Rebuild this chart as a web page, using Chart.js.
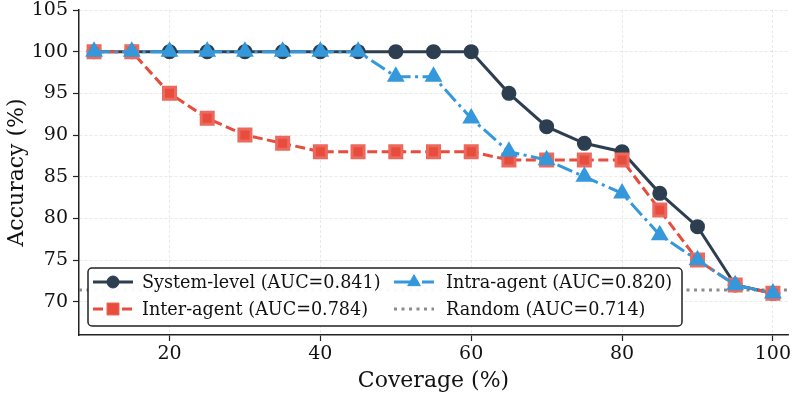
<!DOCTYPE html>
<html>
<head>
<meta charset="utf-8">
<script src="https://cdn.jsdelivr.net/npm/chart.js@4.4.1/dist/chart.umd.min.js"></script>
<style>
  html, body { margin: 0; padding: 0; background: #fff; overflow: hidden; }
  #wrap { width: 793px; height: 396px; }
  canvas { display: block; }
</style>
</head>
<body>
<div id="wrap"><canvas id="chart" width="793" height="396"></canvas></div>
<script>
// Data
const coverage = [10, 15, 20, 25, 30, 35, 40, 45, 50, 55, 60, 65, 70, 75, 80, 85, 90, 95, 100];
const systemLevel = [100, 100, 100, 100, 100, 100, 100, 100, 100, 100, 100, 95, 91, 89, 88, 83, 79, 72, 71];
const interAgent = [100, 100, 95, 92, 90, 89, 88, 88, 88, 88, 88, 87, 87, 87, 87, 81, 75, 72, 71];
const intraAgent = [100, 100, 100, 100, 100, 100, 100, 100, 97, 97, 92, 88, 87, 85, 83, 78, 75, 72, 71];
const randomAcc = 71.4;
const seriesLabels = [
  "System-level (AUC=0.841)",
  "Inter-agent (AUC=0.784)",
  "Intra-agent (AUC=0.820)",
  "Random (AUC=0.714)"
];
const xTicks = [20, 40, 60, 80, 100];
const yTicks = [70, 75, 80, 85, 90, 95, 100, 105];
const xMin = 8, xMax = 102;
const yMin = 66, yMax = 105;

const FONT = "'DejaVu Serif', serif";
const toPoints = ys => ys.map((y, i) => ({ x: coverage[i], y: y }));

// Legend drawn inside the plot, two columns like the original
const innerLegend = {
  id: "innerLegend",
  afterDraw(chart) {
    const ctx = chart.ctx;
    const box = { x: 88, y: 268, w: 594, h: 58 };
    ctx.save();
    ctx.beginPath();
    ctx.roundRect(box.x, box.y, box.w, box.h, 4);
    ctx.fillStyle = "rgba(255,255,255,0.95)";
    ctx.fill();
    ctx.lineWidth = 1.5;
    ctx.strokeStyle = "#222";
    ctx.stroke();

    // column-major order: col 1 = system, inter; col 2 = intra, random
    const slots = [
      { ds: 0, hx: 93, tx: 142, y: 282 },
      { ds: 1, hx: 93, tx: 142, y: 309 },
      { ds: 2, hx: 394, tx: 446, y: 282 },
      { ds: 3, hx: 394, tx: 446, y: 309 }
    ];
    ctx.font = "17.6px " + FONT;
    ctx.textBaseline = "middle";
    slots.forEach(s => {
      const d = chart.data.datasets[s.ds];
      ctx.save();
      ctx.strokeStyle = d.borderColor;
      ctx.lineWidth = d.borderWidth;
      ctx.setLineDash(d.borderDash || []);
      ctx.beginPath();
      ctx.moveTo(s.hx, s.y);
      ctx.lineTo(s.hx + 40, s.y);
      ctx.stroke();
      ctx.restore();
      if (d.pointRadius > 0) {
        ctx.fillStyle = d.pointBackgroundColor;
        ctx.strokeStyle = d.pointBorderColor;
        ctx.lineWidth = 1;
        Chart.helpers.drawPoint(ctx, { pointStyle: d.pointStyle, radius: d.pointRadius, borderWidth: 1, rotation: 0 }, s.hx + 20, s.y);
      }
      ctx.fillStyle = "#111";
      ctx.fillText(d.label, s.tx, s.y + 1);
    });
    ctx.restore();
  }
};

new Chart(document.getElementById("chart"), {
  type: "line",
  data: {
    datasets: [
      {
        label: seriesLabels[0],
        data: toPoints(systemLevel),
        borderColor: "#2c3e50",
        borderWidth: 3,
        pointStyle: "circle",
        pointRadius: 6,
        pointBackgroundColor: "#2c3e50",
        pointBorderColor: "#2c3e50",
        order: 3
      },
      {
        label: seriesLabels[1],
        data: toPoints(interAgent),
        borderColor: "#e74c3c",
        borderWidth: 3,
        borderDash: [10, 4.5],
        pointStyle: "rect",
        pointRadius: 8.5,
        pointBackgroundColor: "#e74c3c",
        pointBorderColor: "#ec6a5d",
        order: 2
      },
      {
        label: seriesLabels[2],
        data: toPoints(intraAgent),
        borderColor: "#3498db",
        borderWidth: 3,
        borderDash: [16, 4.5, 3, 4.5],
        pointStyle: "triangle",
        pointRadius: 7.3,
        pointBackgroundColor: "#3498db",
        pointBorderColor: "#3498db",
        order: 1
      },
      {
        label: seriesLabels[3],
        data: [{ x: xMin, y: randomAcc }, { x: xMax, y: randomAcc }],
        borderColor: "rgba(120,120,120,0.85)",
        borderWidth: 3,
        borderDash: [3, 4.5],
        borderCapStyle: "butt",
        pointRadius: 0,
        order: 4
      }
    ]
  },
  options: {
    responsive: false,
    animation: false,
    events: [],
    layout: { autoPadding: false, padding: { left: 0, right: 5, top: 10, bottom: 0 } },
    elements: { line: { tension: 0, fill: false } },
    plugins: {
      legend: { display: false },
      tooltip: { enabled: false }
    },
    scales: {
      x: {
        type: "linear",
        min: xMin,
        max: xMax,
        afterBuildTicks: s => { s.ticks = xTicks.map(v => ({ value: v })); },
        afterFit: s => { s.height = 61; s.paddingLeft = 0; s.paddingRight = 0; },
        ticks: { color: "#111", font: { family: FONT, size: 19 }, padding: 2, maxRotation: 0 },
        grid: { color: "rgba(0,0,0,0.11)", lineWidth: 0.8, tickLength: 6, tickColor: "#222", tickWidth: 1.2 },
        border: { color: "#222", width: 1.5, dash: [3, 2] },
        title: { display: true, text: "Coverage (%)", color: "#111", font: { family: FONT, size: 22 }, padding: { top: 0, bottom: 2 } }
      },
      y: {
        type: "linear",
        min: yMin,
        max: yMax,
        afterBuildTicks: s => { s.ticks = yTicks.map(v => ({ value: v })); },
        afterFit: s => { s.width = 79; s.paddingTop = 0; s.paddingBottom = 0; },
        ticks: { color: "#111", font: { family: FONT, size: 19 }, padding: 5 },
        grid: { color: "rgba(0,0,0,0.11)", lineWidth: 0.8, tickLength: 6, tickColor: "#222", tickWidth: 1.2 },
        border: { color: "#222", width: 1.5, dash: [3, 2] },
        title: { display: true, text: "Accuracy (%)", color: "#111", font: { family: FONT, size: 22 }, padding: { top: 4, bottom: 0 } }
      }
    }
  },
  plugins: [innerLegend]
});
</script>
</body>
</html>
